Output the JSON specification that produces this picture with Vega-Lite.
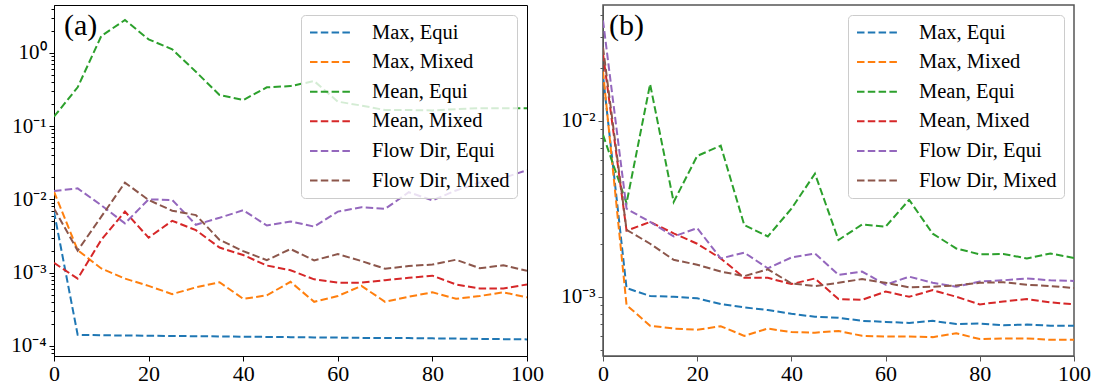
{
"$schema": "https://vega.github.io/schema/vega-lite/v6.json",
"padding": {"left": 0, "top": 4, "right": 0, "bottom": 0},
"background": "white",
"config": {
  "view": {"stroke": "black", "strokeWidth": 1},
  "font": "Liberation Serif",
  "axis": {"labelFont": "Liberation Serif", "labelFontSize": 21, "labelColor": "black", "domainColor": "black", "tickColor": "black", "grid": false, "title": null, "tickSize": 5, "labelPadding": 2},
  "style": {"guide-label": {"font": "Liberation Serif"}},
  "legend": {"labelFont": "Liberation Serif", "labelFontSize": 20.5, "labelColor": "black", "symbolType": "stroke", "symbolSize": 1600, "symbolStrokeWidth": 2, "symbolDash": [7.5, 3.3], "symbolOffset": 1.5, "labelOffset": 21, "clipHeight": 22, "rowPadding": 7.6, "padding": 6.5, "fillColor": "rgba(255,255,255,0.8)", "strokeColor": "#cccccc", "cornerRadius": 4, "orient": "top-right", "offset": 10, "title": null},
  "title": {"font": "Liberation Serif", "fontSize": 30, "fontWeight": "normal", "color": "black", "anchor": "start", "frame": "group", "baseline": "alphabetic"}
},
"datasets": {
  "rows": [
{"p":"a","s":"Max, Equi","x":0,"y":0.0068},{"p":"a","s":"Max, Equi","x":5,"y":0.000142},{"p":"a","s":"Max, Equi","x":10,"y":0.00014},{"p":"a","s":"Max, Equi","x":15,"y":0.000139},{"p":"a","s":"Max, Equi","x":20,"y":0.000138},{"p":"a","s":"Max, Equi","x":25,"y":0.000137},{"p":"a","s":"Max, Equi","x":30,"y":0.000136},{"p":"a","s":"Max, Equi","x":35,"y":0.000135},{"p":"a","s":"Max, Equi","x":40,"y":0.000134},{"p":"a","s":"Max, Equi","x":45,"y":0.000133},{"p":"a","s":"Max, Equi","x":50,"y":0.000132},{"p":"a","s":"Max, Equi","x":55,"y":0.000131},{"p":"a","s":"Max, Equi","x":60,"y":0.00013},{"p":"a","s":"Max, Equi","x":65,"y":0.000129},{"p":"a","s":"Max, Equi","x":70,"y":0.000128},{"p":"a","s":"Max, Equi","x":75,"y":0.000128},{"p":"a","s":"Max, Equi","x":80,"y":0.000127},{"p":"a","s":"Max, Equi","x":85,"y":0.000126},{"p":"a","s":"Max, Equi","x":90,"y":0.000125},{"p":"a","s":"Max, Equi","x":95,"y":0.000124},{"p":"a","s":"Max, Equi","x":100,"y":0.000123},
{"p":"a","s":"Max, Mixed","x":0,"y":0.0127},{"p":"a","s":"Max, Mixed","x":5,"y":0.00203},{"p":"a","s":"Max, Mixed","x":10,"y":0.00114},{"p":"a","s":"Max, Mixed","x":15,"y":0.00083},{"p":"a","s":"Max, Mixed","x":20,"y":0.00066},{"p":"a","s":"Max, Mixed","x":25,"y":0.00051},{"p":"a","s":"Max, Mixed","x":30,"y":0.00063},{"p":"a","s":"Max, Mixed","x":35,"y":0.00074},{"p":"a","s":"Max, Mixed","x":40,"y":0.00044},{"p":"a","s":"Max, Mixed","x":45,"y":0.00049},{"p":"a","s":"Max, Mixed","x":50,"y":0.00075},{"p":"a","s":"Max, Mixed","x":55,"y":0.0004},{"p":"a","s":"Max, Mixed","x":60,"y":0.00048},{"p":"a","s":"Max, Mixed","x":65,"y":0.00066},{"p":"a","s":"Max, Mixed","x":70,"y":0.0004},{"p":"a","s":"Max, Mixed","x":75,"y":0.00047},{"p":"a","s":"Max, Mixed","x":80,"y":0.00054},{"p":"a","s":"Max, Mixed","x":85,"y":0.00044},{"p":"a","s":"Max, Mixed","x":90,"y":0.00048},{"p":"a","s":"Max, Mixed","x":95,"y":0.00054},{"p":"a","s":"Max, Mixed","x":100,"y":0.00046},
{"p":"a","s":"Mean, Equi","x":0,"y":0.134},{"p":"a","s":"Mean, Equi","x":5,"y":0.337},{"p":"a","s":"Mean, Equi","x":10,"y":1.69},{"p":"a","s":"Mean, Equi","x":15,"y":2.79},{"p":"a","s":"Mean, Equi","x":20,"y":1.52},{"p":"a","s":"Mean, Equi","x":25,"y":1.11},{"p":"a","s":"Mean, Equi","x":30,"y":0.55},{"p":"a","s":"Mean, Equi","x":35,"y":0.265},{"p":"a","s":"Mean, Equi","x":40,"y":0.226},{"p":"a","s":"Mean, Equi","x":45,"y":0.337},{"p":"a","s":"Mean, Equi","x":50,"y":0.35},{"p":"a","s":"Mean, Equi","x":55,"y":0.41},{"p":"a","s":"Mean, Equi","x":60,"y":0.215},{"p":"a","s":"Mean, Equi","x":65,"y":0.19},{"p":"a","s":"Mean, Equi","x":70,"y":0.165},{"p":"a","s":"Mean, Equi","x":75,"y":0.165},{"p":"a","s":"Mean, Equi","x":80,"y":0.163},{"p":"a","s":"Mean, Equi","x":85,"y":0.17},{"p":"a","s":"Mean, Equi","x":90,"y":0.175},{"p":"a","s":"Mean, Equi","x":95,"y":0.174},{"p":"a","s":"Mean, Equi","x":100,"y":0.174},
{"p":"a","s":"Mean, Mixed","x":0,"y":0.00136},{"p":"a","s":"Mean, Mixed","x":5,"y":0.00083},{"p":"a","s":"Mean, Mixed","x":10,"y":0.0028},{"p":"a","s":"Mean, Mixed","x":15,"y":0.0068},{"p":"a","s":"Mean, Mixed","x":20,"y":0.003},{"p":"a","s":"Mean, Mixed","x":25,"y":0.0051},{"p":"a","s":"Mean, Mixed","x":30,"y":0.0038},{"p":"a","s":"Mean, Mixed","x":35,"y":0.0022},{"p":"a","s":"Mean, Mixed","x":40,"y":0.00174},{"p":"a","s":"Mean, Mixed","x":45,"y":0.00125},{"p":"a","s":"Mean, Mixed","x":50,"y":0.00108},{"p":"a","s":"Mean, Mixed","x":55,"y":0.00081},{"p":"a","s":"Mean, Mixed","x":60,"y":0.00073},{"p":"a","s":"Mean, Mixed","x":65,"y":0.00073},{"p":"a","s":"Mean, Mixed","x":70,"y":0.00079},{"p":"a","s":"Mean, Mixed","x":75,"y":0.00085},{"p":"a","s":"Mean, Mixed","x":80,"y":0.00091},{"p":"a","s":"Mean, Mixed","x":85,"y":0.00069},{"p":"a","s":"Mean, Mixed","x":90,"y":0.00061},{"p":"a","s":"Mean, Mixed","x":95,"y":0.00061},{"p":"a","s":"Mean, Mixed","x":100,"y":0.00069},
{"p":"a","s":"Flow Dir, Equi","x":0,"y":0.013},{"p":"a","s":"Flow Dir, Equi","x":5,"y":0.0141},{"p":"a","s":"Flow Dir, Equi","x":10,"y":0.0083},{"p":"a","s":"Flow Dir, Equi","x":15,"y":0.0047},{"p":"a","s":"Flow Dir, Equi","x":20,"y":0.01},{"p":"a","s":"Flow Dir, Equi","x":25,"y":0.0098},{"p":"a","s":"Flow Dir, Equi","x":30,"y":0.0045},{"p":"a","s":"Flow Dir, Equi","x":35,"y":0.0056},{"p":"a","s":"Flow Dir, Equi","x":40,"y":0.0071},{"p":"a","s":"Flow Dir, Equi","x":45,"y":0.0044},{"p":"a","s":"Flow Dir, Equi","x":50,"y":0.005},{"p":"a","s":"Flow Dir, Equi","x":55,"y":0.00425},{"p":"a","s":"Flow Dir, Equi","x":60,"y":0.0068},{"p":"a","s":"Flow Dir, Equi","x":65,"y":0.0078},{"p":"a","s":"Flow Dir, Equi","x":70,"y":0.0074},{"p":"a","s":"Flow Dir, Equi","x":75,"y":0.0125},{"p":"a","s":"Flow Dir, Equi","x":80,"y":0.0097},{"p":"a","s":"Flow Dir, Equi","x":85,"y":0.0132},{"p":"a","s":"Flow Dir, Equi","x":90,"y":0.017},{"p":"a","s":"Flow Dir, Equi","x":95,"y":0.0195},{"p":"a","s":"Flow Dir, Equi","x":100,"y":0.025},
{"p":"a","s":"Flow Dir, Mixed","x":0,"y":0.0075},{"p":"a","s":"Flow Dir, Mixed","x":5,"y":0.002},{"p":"a","s":"Flow Dir, Mixed","x":10,"y":0.0058},{"p":"a","s":"Flow Dir, Mixed","x":15,"y":0.0169},{"p":"a","s":"Flow Dir, Mixed","x":20,"y":0.0098},{"p":"a","s":"Flow Dir, Mixed","x":25,"y":0.007},{"p":"a","s":"Flow Dir, Mixed","x":30,"y":0.0061},{"p":"a","s":"Flow Dir, Mixed","x":35,"y":0.0028},{"p":"a","s":"Flow Dir, Mixed","x":40,"y":0.00197},{"p":"a","s":"Flow Dir, Mixed","x":45,"y":0.00148},{"p":"a","s":"Flow Dir, Mixed","x":50,"y":0.0021},{"p":"a","s":"Flow Dir, Mixed","x":55,"y":0.00147},{"p":"a","s":"Flow Dir, Mixed","x":60,"y":0.00179},{"p":"a","s":"Flow Dir, Mixed","x":65,"y":0.00144},{"p":"a","s":"Flow Dir, Mixed","x":70,"y":0.00113},{"p":"a","s":"Flow Dir, Mixed","x":75,"y":0.00123},{"p":"a","s":"Flow Dir, Mixed","x":80,"y":0.00129},{"p":"a","s":"Flow Dir, Mixed","x":85,"y":0.0015},{"p":"a","s":"Flow Dir, Mixed","x":90,"y":0.00115},{"p":"a","s":"Flow Dir, Mixed","x":95,"y":0.00126},{"p":"a","s":"Flow Dir, Mixed","x":100,"y":0.00106},
{"p":"b","s":"Max, Equi","x":0,"y":0.018},{"p":"b","s":"Max, Equi","x":5,"y":0.00112},{"p":"b","s":"Max, Equi","x":10,"y":0.00101},{"p":"b","s":"Max, Equi","x":15,"y":0.001},{"p":"b","s":"Max, Equi","x":20,"y":0.00098},{"p":"b","s":"Max, Equi","x":25,"y":0.00091},{"p":"b","s":"Max, Equi","x":30,"y":0.00087},{"p":"b","s":"Max, Equi","x":35,"y":0.00084},{"p":"b","s":"Max, Equi","x":40,"y":0.0008},{"p":"b","s":"Max, Equi","x":45,"y":0.00077},{"p":"b","s":"Max, Equi","x":50,"y":0.00076},{"p":"b","s":"Max, Equi","x":55,"y":0.00073},{"p":"b","s":"Max, Equi","x":60,"y":0.00072},{"p":"b","s":"Max, Equi","x":65,"y":0.00071},{"p":"b","s":"Max, Equi","x":70,"y":0.00073},{"p":"b","s":"Max, Equi","x":75,"y":0.0007},{"p":"b","s":"Max, Equi","x":80,"y":0.000705},{"p":"b","s":"Max, Equi","x":85,"y":0.00069},{"p":"b","s":"Max, Equi","x":90,"y":0.000695},{"p":"b","s":"Max, Equi","x":95,"y":0.000685},{"p":"b","s":"Max, Equi","x":100,"y":0.000685},
{"p":"b","s":"Max, Mixed","x":0,"y":0.019},{"p":"b","s":"Max, Mixed","x":5,"y":0.000897},{"p":"b","s":"Max, Mixed","x":10,"y":0.000685},{"p":"b","s":"Max, Mixed","x":15,"y":0.00066},{"p":"b","s":"Max, Mixed","x":20,"y":0.00065},{"p":"b","s":"Max, Mixed","x":25,"y":0.00068},{"p":"b","s":"Max, Mixed","x":30,"y":0.0006},{"p":"b","s":"Max, Mixed","x":35,"y":0.00066},{"p":"b","s":"Max, Mixed","x":40,"y":0.00063},{"p":"b","s":"Max, Mixed","x":45,"y":0.000625},{"p":"b","s":"Max, Mixed","x":50,"y":0.00064},{"p":"b","s":"Max, Mixed","x":55,"y":0.0006},{"p":"b","s":"Max, Mixed","x":60,"y":0.000595},{"p":"b","s":"Max, Mixed","x":65,"y":0.000595},{"p":"b","s":"Max, Mixed","x":70,"y":0.00059},{"p":"b","s":"Max, Mixed","x":75,"y":0.00062},{"p":"b","s":"Max, Mixed","x":80,"y":0.000575},{"p":"b","s":"Max, Mixed","x":85,"y":0.00058},{"p":"b","s":"Max, Mixed","x":90,"y":0.00058},{"p":"b","s":"Max, Mixed","x":95,"y":0.00057},{"p":"b","s":"Max, Mixed","x":100,"y":0.00057},
{"p":"b","s":"Mean, Equi","x":0,"y":0.0083},{"p":"b","s":"Mean, Equi","x":5,"y":0.0034},{"p":"b","s":"Mean, Equi","x":10,"y":0.0161},{"p":"b","s":"Mean, Equi","x":15,"y":0.00345},{"p":"b","s":"Mean, Equi","x":20,"y":0.0063},{"p":"b","s":"Mean, Equi","x":25,"y":0.0072},{"p":"b","s":"Mean, Equi","x":30,"y":0.00255},{"p":"b","s":"Mean, Equi","x":35,"y":0.0022},{"p":"b","s":"Mean, Equi","x":40,"y":0.00316},{"p":"b","s":"Mean, Equi","x":45,"y":0.005},{"p":"b","s":"Mean, Equi","x":50,"y":0.0021},{"p":"b","s":"Mean, Equi","x":55,"y":0.00257},{"p":"b","s":"Mean, Equi","x":60,"y":0.0025},{"p":"b","s":"Mean, Equi","x":65,"y":0.00355},{"p":"b","s":"Mean, Equi","x":70,"y":0.00228},{"p":"b","s":"Mean, Equi","x":75,"y":0.00188},{"p":"b","s":"Mean, Equi","x":80,"y":0.00174},{"p":"b","s":"Mean, Equi","x":85,"y":0.00175},{"p":"b","s":"Mean, Equi","x":90,"y":0.00165},{"p":"b","s":"Mean, Equi","x":95,"y":0.00176},{"p":"b","s":"Mean, Equi","x":100,"y":0.00166},
{"p":"b","s":"Mean, Mixed","x":0,"y":0.024},{"p":"b","s":"Mean, Mixed","x":5,"y":0.00237},{"p":"b","s":"Mean, Mixed","x":10,"y":0.00266},{"p":"b","s":"Mean, Mixed","x":15,"y":0.00229},{"p":"b","s":"Mean, Mixed","x":20,"y":0.002},{"p":"b","s":"Mean, Mixed","x":25,"y":0.00165},{"p":"b","s":"Mean, Mixed","x":30,"y":0.00128},{"p":"b","s":"Mean, Mixed","x":35,"y":0.00128},{"p":"b","s":"Mean, Mixed","x":40,"y":0.00118},{"p":"b","s":"Mean, Mixed","x":45,"y":0.00127},{"p":"b","s":"Mean, Mixed","x":50,"y":0.00097},{"p":"b","s":"Mean, Mixed","x":55,"y":0.00096},{"p":"b","s":"Mean, Mixed","x":60,"y":0.00107},{"p":"b","s":"Mean, Mixed","x":65,"y":0.001},{"p":"b","s":"Mean, Mixed","x":70,"y":0.00109},{"p":"b","s":"Mean, Mixed","x":75,"y":0.001},{"p":"b","s":"Mean, Mixed","x":80,"y":0.000905},{"p":"b","s":"Mean, Mixed","x":85,"y":0.00094},{"p":"b","s":"Mean, Mixed","x":90,"y":0.00097},{"p":"b","s":"Mean, Mixed","x":95,"y":0.00093},{"p":"b","s":"Mean, Mixed","x":100,"y":0.000905},
{"p":"b","s":"Flow Dir, Equi","x":0,"y":0.037},{"p":"b","s":"Flow Dir, Equi","x":5,"y":0.00316},{"p":"b","s":"Flow Dir, Equi","x":10,"y":0.00266},{"p":"b","s":"Flow Dir, Equi","x":15,"y":0.0022},{"p":"b","s":"Flow Dir, Equi","x":20,"y":0.00245},{"p":"b","s":"Flow Dir, Equi","x":25,"y":0.00165},{"p":"b","s":"Flow Dir, Equi","x":30,"y":0.00178},{"p":"b","s":"Flow Dir, Equi","x":35,"y":0.00145},{"p":"b","s":"Flow Dir, Equi","x":40,"y":0.00167},{"p":"b","s":"Flow Dir, Equi","x":45,"y":0.00176},{"p":"b","s":"Flow Dir, Equi","x":50,"y":0.00133},{"p":"b","s":"Flow Dir, Equi","x":55,"y":0.00139},{"p":"b","s":"Flow Dir, Equi","x":60,"y":0.00117},{"p":"b","s":"Flow Dir, Equi","x":65,"y":0.0013},{"p":"b","s":"Flow Dir, Equi","x":70,"y":0.0012},{"p":"b","s":"Flow Dir, Equi","x":75,"y":0.00114},{"p":"b","s":"Flow Dir, Equi","x":80,"y":0.00122},{"p":"b","s":"Flow Dir, Equi","x":85,"y":0.00124},{"p":"b","s":"Flow Dir, Equi","x":90,"y":0.00127},{"p":"b","s":"Flow Dir, Equi","x":95,"y":0.00124},{"p":"b","s":"Flow Dir, Equi","x":100,"y":0.00123},
{"p":"b","s":"Flow Dir, Mixed","x":0,"y":0.026},{"p":"b","s":"Flow Dir, Mixed","x":5,"y":0.0024},{"p":"b","s":"Flow Dir, Mixed","x":10,"y":0.002},{"p":"b","s":"Flow Dir, Mixed","x":15,"y":0.00162},{"p":"b","s":"Flow Dir, Mixed","x":20,"y":0.00152},{"p":"b","s":"Flow Dir, Mixed","x":25,"y":0.00139},{"p":"b","s":"Flow Dir, Mixed","x":30,"y":0.00131},{"p":"b","s":"Flow Dir, Mixed","x":35,"y":0.00143},{"p":"b","s":"Flow Dir, Mixed","x":40,"y":0.00119},{"p":"b","s":"Flow Dir, Mixed","x":45,"y":0.00115},{"p":"b","s":"Flow Dir, Mixed","x":50,"y":0.0012},{"p":"b","s":"Flow Dir, Mixed","x":55,"y":0.00126},{"p":"b","s":"Flow Dir, Mixed","x":60,"y":0.0012},{"p":"b","s":"Flow Dir, Mixed","x":65,"y":0.00113},{"p":"b","s":"Flow Dir, Mixed","x":70,"y":0.00114},{"p":"b","s":"Flow Dir, Mixed","x":75,"y":0.00116},{"p":"b","s":"Flow Dir, Mixed","x":80,"y":0.0012},{"p":"b","s":"Flow Dir, Mixed","x":85,"y":0.00121},{"p":"b","s":"Flow Dir, Mixed","x":90,"y":0.00117},{"p":"b","s":"Flow Dir, Mixed","x":95,"y":0.00115},{"p":"b","s":"Flow Dir, Mixed","x":100,"y":0.00112}
  ]
},
"data": {"name": "rows"},
"spacing": 76,
"bounds": "flush",
"resolve": {"scale": {"x": "independent", "y": "independent", "color": "independent"}, "legend": {"color": "independent"}, "axis": {"x": "independent", "y": "independent"}},
"hconcat": [
  {
    "width": 473, "height": 351,
    "title": {"text": "(a)", "offset": -36, "dx": 10},
    "transform": [{"filter": "datum.p == 'a'"}],
    "mark": {"type": "line", "strokeDash": [7.5, 3.3], "strokeWidth": 2, "clip": true},
    "encoding": {
      "x": {"field": "x", "type": "quantitative", "scale": {"domain": [0, 100], "nice": false, "zero": false}, "axis": {"values": [0, 20, 40, 60, 80, 100], "labelFlush": false, "labelFont": "Liberation Serif", "labelFontSize": 22}},
      "y": {"field": "y", "type": "quantitative", "scale": {"type": "log", "domain": [0.000073, 4.47], "nice": false}, "axis": {
        "values": [0.00008, 0.00009, 0.0001, 0.0002, 0.0003, 0.0004, 0.0005, 0.0006, 0.0007, 0.0008, 0.0009, 0.001, 0.002, 0.003, 0.004, 0.005, 0.006, 0.007, 0.008, 0.009, 0.01, 0.02, 0.03, 0.04, 0.05, 0.06, 0.07, 0.08, 0.09, 0.1, 0.2, 0.3, 0.4, 0.5, 0.6, 0.7, 0.8, 0.9, 1, 2, 3, 4],
        "labelExpr": "abs(datum.value - 1) < 1e-9 ? '10⁰' : abs(datum.value - 0.1) < 1e-9 ? '10⁻¹' : abs(datum.value - 0.01) < 1e-10 ? '10⁻²' : abs(datum.value - 0.001) < 1e-11 ? '10⁻³' : abs(datum.value - 0.0001) < 1e-12 ? '10⁻⁴' : ''",
        "tickSize": {"condition": {"test": "abs(log(datum.value)/LN10 - round(log(datum.value)/LN10)) < 0.001", "value": 5}, "value": 3},
        "labelFontSize": {"condition": {"test": "abs(log(datum.value)/LN10 - round(log(datum.value)/LN10)) < 0.001", "value": 21}, "value": 0},
        "labelFont": "Liberation Serif",
        "labelPadding": 3, "minExtent": 53, "maxExtent": 53, "labelOverlap": false, "labelBound": false}},
      "color": {"field": "s", "type": "nominal", "scale": {"domain": ["Max, Equi", "Max, Mixed", "Mean, Equi", "Mean, Mixed", "Flow Dir, Equi", "Flow Dir, Mixed"], "range": ["#1f77b4", "#ff7f0e", "#2ca02c", "#d62728", "#9467bd", "#8c564b"]}, "legend": {"orient": "top-right", "offset": 10, "title": null}}
    }
  },
  {
    "width": 471, "height": 351,
    "view": {"stroke": "#555555", "strokeWidth": 1.5},
    "title": {"text": "(b)", "offset": -36, "dx": 6},
    "transform": [{"filter": "datum.p == 'b'"}],
    "mark": {"type": "line", "strokeDash": [7.5, 3.3], "strokeWidth": 2, "clip": true},
    "encoding": {
      "x": {"field": "x", "type": "quantitative", "scale": {"domain": [0, 100], "nice": false, "zero": false}, "axis": {"values": [0, 20, 40, 60, 80, 100], "labelFlush": false, "labelFont": "Liberation Serif", "labelFontSize": 22, "domainColor": "#555555", "tickColor": "#555555"}},
      "y": {"field": "y", "type": "quantitative", "scale": {"type": "log", "domain": [0.000461, 0.0453], "nice": false}, "axis": {
        "values": [0.0005, 0.0006, 0.0007, 0.0008, 0.0009, 0.001, 0.002, 0.003, 0.004, 0.005, 0.006, 0.007, 0.008, 0.009, 0.01, 0.02, 0.03, 0.04],
        "labelExpr": "abs(datum.value - 0.01) < 1e-10 ? '10⁻²' : abs(datum.value - 0.001) < 1e-11 ? '10⁻³' : ''",
        "tickSize": {"condition": {"test": "abs(log(datum.value)/LN10 - round(log(datum.value)/LN10)) < 0.001", "value": 5}, "value": 3},
        "labelFontSize": {"condition": {"test": "abs(log(datum.value)/LN10 - round(log(datum.value)/LN10)) < 0.001", "value": 21}, "value": 0},
        "labelFont": "Liberation Serif",
        "labelPadding": 3, "domainColor": "#555555", "tickColor": "#555555",
        "labelOverlap": false, "labelBound": false}},
      "color": {"field": "s", "type": "nominal", "scale": {"domain": ["Max, Equi", "Max, Mixed", "Mean, Equi", "Mean, Mixed", "Flow Dir, Equi", "Flow Dir, Mixed"], "range": ["#1f77b4", "#ff7f0e", "#2ca02c", "#d62728", "#9467bd", "#8c564b"]}, "legend": {"orient": "top-right", "offset": 10, "title": null}}
    }
  }
]
}
